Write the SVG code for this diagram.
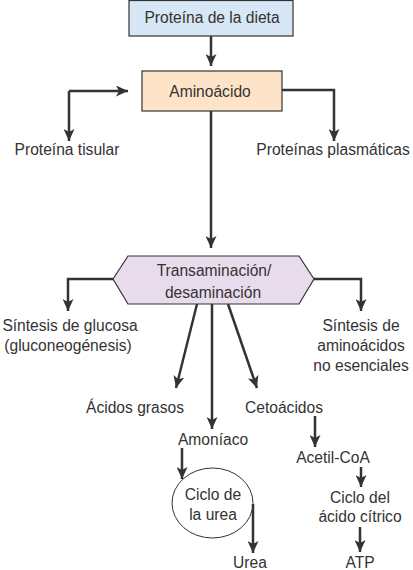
<svg xmlns="http://www.w3.org/2000/svg" width="413" height="570" viewBox="0 0 413 570">
<defs>
<marker id="ah" markerUnits="userSpaceOnUse" markerWidth="13" markerHeight="11" refX="12" refY="5.5" orient="auto">
<path d="M0,0 L12,5.5 L0,11 L3,5.5 z" fill="#333"/>
</marker>
<style>
text{font-family:"Liberation Sans",Arial,sans-serif;font-size:15.6px;fill:#333;text-anchor:middle}
.ln{fill:none;stroke:#333;stroke-width:2.5;marker-end:url(#ah)}
.box{stroke:#333;stroke-width:1.2}
</style>
</defs>
<rect width="413" height="570" fill="#fff"/>
<g id="connectors">
<path class="ln" d="M211,36 V66"/>
<path class="ln" d="M69,91 H128" />
<path class="ln" d="M69,91 V141"/>
<path class="ln" d="M282,90 H334 V141"/>
<path class="ln" d="M211,111 V248"/>
<path class="ln" d="M113,279 H68 V311"/>
<path class="ln" d="M314,279 H361 V311"/>
<path class="ln" d="M197,304 L176,388"/>
<path class="ln" d="M228,304 L257,388"/>
<path class="ln" d="M212,304 V429"/>
<path class="ln" d="M182,448 V479"/>
<path class="ln" d="M253,504 V553"/>
<path class="ln" d="M315,416 V447"/>
<path class="ln" d="M361,467 V487"/>
<path class="ln" d="M360,527 V552"/>
</g>
<g id="proteina-dieta">
<rect class="box" x="129" y="0.5" width="164" height="35.5" fill="#d8e7f5"/>
<text x="212" y="23">Proteína de la dieta</text>
</g>
<g id="aminoacido">
<rect class="box" x="142" y="71" width="140" height="40" fill="#fde4c8"/>
<text x="210" y="97">Aminoácido</text>
</g>
<g id="proteina-tisular"><text x="67" y="155">Proteína tisular</text></g>
<g id="proteinas-plasmaticas"><text x="333" y="155">Proteínas plasmáticas</text></g>
<g id="transaminacion">
<polygon class="box" points="113,279 128,256 299,256 314,279 299,304 128,304" fill="#e8dcec" stroke-width="1"/>
<text x="214" y="276">Transaminación/</text>
<text x="213" y="298">desaminación</text>
</g>
<g id="sintesis-glucosa">
<text x="70" y="331">Síntesis de glucosa</text>
<text x="68" y="351">(gluconeogénesis)</text>
</g>
<g id="sintesis-aminoacidos">
<text x="361" y="331">Síntesis de</text>
<text x="361" y="351">aminoácidos</text>
<text x="361" y="371">no esenciales</text>
</g>
<g id="acidos-grasos"><text x="135" y="413">Ácidos grasos</text></g>
<g id="cetoacidos"><text x="284" y="413">Cetoácidos</text></g>
<g id="amoniaco"><text x="213" y="445">Amoníaco</text></g>
<g id="ciclo-urea">
<ellipse cx="212.5" cy="503" rx="40.5" ry="35" fill="none" stroke="#333" stroke-width="1"/>
<text x="213" y="500">Ciclo de</text>
<text x="213" y="520">la urea</text>
</g>
<g id="urea"><text x="250" y="568">Urea</text></g>
<g id="acetil-coa"><text x="333" y="463">Acetil-CoA</text></g>
<g id="ciclo-citrico">
<text x="360" y="503">Ciclo del</text>
<text x="360" y="522">ácido cítrico</text>
</g>
<g id="atp"><text x="360" y="568">ATP</text></g>
</svg>
